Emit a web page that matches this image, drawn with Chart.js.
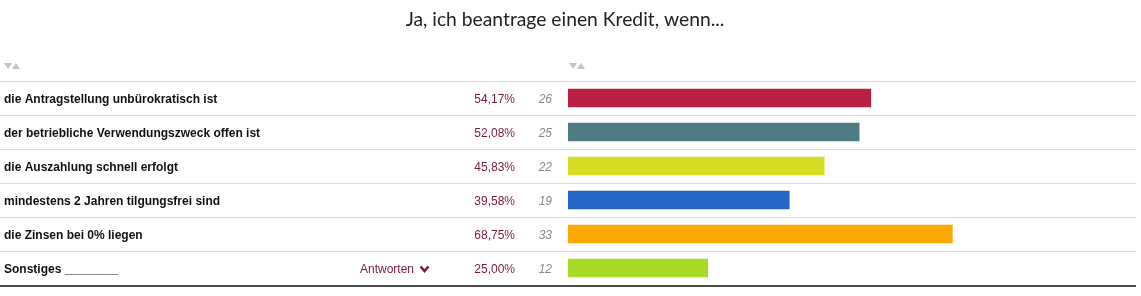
<!DOCTYPE html>
<html>
<head>
<meta charset="utf-8">
<script src="https://cdn.jsdelivr.net/npm/chart.js@4/dist/chart.umd.min.js"></script>
<style>
  html, body { margin: 0; padding: 0; background: #fff; }
  #wrap { width: 1141px; height: 296px; position: relative; }
</style>
</head>
<body>
<div id="wrap"><canvas id="canvas" width="1141" height="296"></canvas></div>
<script>
var title = 'Ja, ich beantrage einen Kredit, wenn...';
var labels = [
	'die Antragstellung unbürokratisch ist',
	'der betriebliche Verwendungszweck offen ist',
	'die Auszahlung schnell erfolgt',
	'mindestens 2 Jahren tilgungsfrei sind',
	'die Zinsen bei 0% liegen',
	'Sonstiges ________'
];
var percents = [54.17, 52.08, 45.83, 39.58, 68.75, 25.00];
var counts = [26, 25, 22, 19, 33, 12];
var colors = ['#b91f43', '#4f7c82', '#d7dc25', '#2566c6', '#fca800', '#a8da28'];
var answerLink = 'Antworten';

function fmtPct(v){
	return v.toFixed(2).replace('.', ',') + '%';
}

// draws title, header arrows, row lines and the table columns left of the bars
var tablePlugin = {
	id: 'table',
	beforeDatasetsDraw: function(chart){
		var ctx = chart.ctx;
		var y = chart.scales.y;
		ctx.save();

		ctx.fillStyle = '#222';
		ctx.font = '19.3px Lato';
		ctx.textAlign = 'center';
		ctx.textBaseline = 'middle';
		ctx.fillText(title, 565, 20);

		// sort arrows
		ctx.fillStyle = '#c4c4c4';
		[4, 569].forEach(function(x){
			ctx.beginPath();
			ctx.moveTo(x, 63); ctx.lineTo(x + 8, 63); ctx.lineTo(x + 4, 69); ctx.closePath(); ctx.fill();
			ctx.beginPath();
			ctx.moveTo(x + 8, 69); ctx.lineTo(x + 16, 69); ctx.lineTo(x + 12, 63); ctx.closePath(); ctx.fill();
		});

		var half = (y.getPixelForValue(1) - y.getPixelForValue(0)) / 2;
		ctx.strokeStyle = '#dcdcdc';
		ctx.lineWidth = 1;
		for (var i = 0; i < labels.length; i++){
			var top = Math.round(y.getPixelForValue(i) - half) + 0.5;
			ctx.beginPath(); ctx.moveTo(0, top); ctx.lineTo(1136, top); ctx.stroke();
		}
		ctx.strokeStyle = '#111';
		ctx.lineWidth = 1.5;
		var bottom = y.getPixelForValue(labels.length - 1) + half + 1;
		ctx.beginPath(); ctx.moveTo(0, bottom); ctx.lineTo(1136, bottom); ctx.stroke();

		ctx.textBaseline = 'middle';
		for (var j = 0; j < labels.length; j++){
			var cy = y.getPixelForValue(j) + 1.5;
			ctx.fillStyle = '#111';
			ctx.font = 'bold 12px "Liberation Sans", Arial';
			ctx.textAlign = 'left';
			ctx.fillText(labels[j], 4, cy);

			ctx.fillStyle = '#7d1a3c';
			ctx.font = '12px "Liberation Sans", Arial';
			ctx.textAlign = 'right';
			ctx.fillText(fmtPct(percents[j]), 515, cy);

			ctx.fillStyle = '#8a8a8a';
			ctx.font = 'italic 12px "Liberation Sans", Arial';
			ctx.fillText(counts[j], 552, cy);
		}

		// "Antworten" link on the last row
		var ly = y.getPixelForValue(labels.length - 1) + 1.5;
		ctx.fillStyle = '#7d1a3c';
		ctx.font = '12px "Liberation Sans", Arial';
		ctx.textAlign = 'left';
		ctx.fillText(answerLink, 360, ly);
		ctx.strokeStyle = '#7d1a3c';
		ctx.lineWidth = 2.6;
		ctx.beginPath();
		ctx.moveTo(420.5, ly - 3); ctx.lineTo(424.5, ly + 1.5); ctx.lineTo(428.5, ly - 3);
		ctx.stroke();

		ctx.restore();
	}
};

var ctx = document.getElementById('canvas').getContext('2d');
var chart = new Chart(ctx, {
	type: 'bar',
	data: {
		labels: labels,
		datasets: [{
			data: percents,
			backgroundColor: colors,
			borderWidth: 0,
			barThickness: 18
		}]
	},
	options: {
		indexAxis: 'y',
		responsive: false,
		animation: false,
		maintainAspectRatio: false,
		layout: {
			padding: { left: 568, right: 14, top: 81, bottom: 11 }
		},
		scales: {
			x: { display: false, min: 0, max: 100 },
			y: { display: false }
		},
		plugins: {
			legend: { display: false },
			tooltip: { enabled: false }
		}
	},
	plugins: [tablePlugin]
});
</script>
</body>
</html>
